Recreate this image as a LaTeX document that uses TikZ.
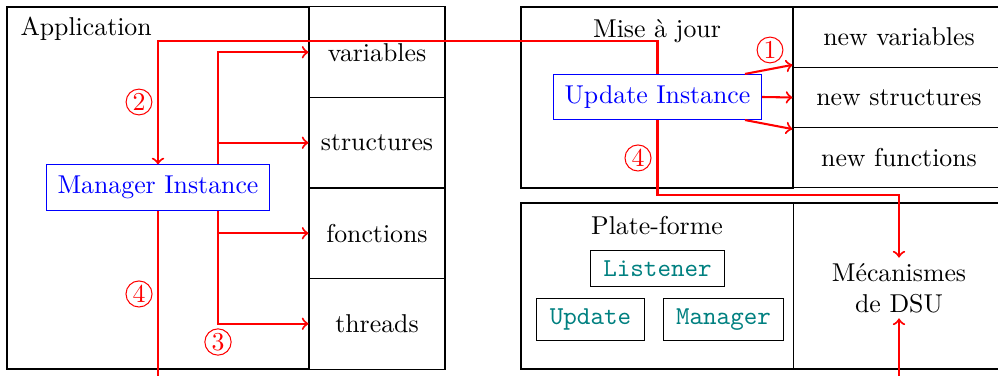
\documentclass[tikz,border=0pt]{standalone}
\usepackage{tikz}
\usetikzlibrary{calc,positioning}
\tikzset{
  cell/.style={draw,inner sep=0pt},
  instbox/.style={draw=blue,text=blue,inner sep=4.3pt},
  ttbox/.style={draw,text=teal,inner xsep=5pt,inner ysep=4pt,font=\ttfamily},
  redline/.style={red,thick},
  stepnum/.style={circle,draw=red,text=red,inner sep=0.6pt}
}
\begin{document}
\begin{tikzpicture}[x=0.3876pt,y=-0.3876pt]
  \useasboundingbox (0,0) rectangle (998,376);
  % application
  \draw (7,7) rectangle (309,369);
  \node[anchor=base west,inner sep=0pt] (app) at (20,36) {Application};
  \node[cell,minimum width=52.7pt,minimum height=35.1pt] (var) at (377,52.25) {variables};
  \node[cell,minimum width=52.7pt,minimum height=35.1pt] (str) at (377,142.75) {structures};
  \node[cell,minimum width=52.7pt,minimum height=35.1pt] (fct) at (377,233.25) {fonctions};
  \node[cell,minimum width=52.7pt,minimum height=35.1pt] (thr) at (377,323.75) {threads};
  \node[instbox] (mgr) at (158,187.5) {Manager Instance};
  % mise a jour
  \draw (521,7) rectangle (793,188);
  \node[anchor=base] (maj) at (657,37.7) {Mise à jour};
  \node[cell,minimum width=82.2pt,minimum height=23.4pt] (nvar) at (899,37.2) {new variables};
  \node[cell,minimum width=82.2pt,minimum height=23.4pt] (nstr) at (899,97.5) {new structures};
  \node[cell,minimum width=82.2pt,minimum height=23.4pt] (nfun) at (899,157.8) {new functions};
  \node[instbox] (upd) at (657.5,97) {Update Instance};
  % plate-forme
  \draw (521,203) rectangle (793,369);
  \draw (793,203) rectangle (1005,369);
  \node[anchor=base] (pf) at (657,235) {Plate-forme};
  \node[ttbox] (lst) at (657.5,268.5) {Listener};
  \node[ttbox] (tupd) at (590.5,319.5) {Update};
  \node[ttbox] (tmgr) at (723.5,319.5) {Manager};
  \node[align=center,inner sep=2pt] (dsu) at (899,288) {Mécanismes\\de DSU};
  % connexions
  \coordinate (top) at (158,41);
  \coordinate (fk) at (218,0);
  \coordinate (low) at (158,400);
  \draw[redline,->] (upd.north) |- (top) -- (mgr.north);
  \draw[redline,->] (mgr.north -| fk) |- (var.west);
  \draw[redline,->] (mgr.north -| fk) |- (str.west);
  \draw[redline,->] (mgr.south -| fk) |- (fct.west);
  \draw[redline,->] (mgr.south -| fk) |- (thr.west);
  \draw[redline,->] (mgr.south) -- (low) -| (dsu.south);
  \draw[redline,->] ($(upd.north east)+(-17,0)$) -- ($(nvar.south west)+(0,-3)$);
  \draw[redline,->] (upd.east) -- (nstr.west);
  \draw[redline,->] ($(upd.south east)+(-17,0)$) -- ($(nfun.north west)+(0,2)$);
  \draw[redline,->] (upd.south) |- (899,195) -- (dsu.north);
  \node[stepnum] (s1) at (770,50) {1};
  \node[stepnum] (s2) at (139,102) {2};
  \node[stepnum] (s3) at (218,342) {3};
  \node[stepnum] (s4) at (139,294) {4};
  \node[stepnum] (s4b) at (638,158) {4};
\end{tikzpicture}
\end{document}
